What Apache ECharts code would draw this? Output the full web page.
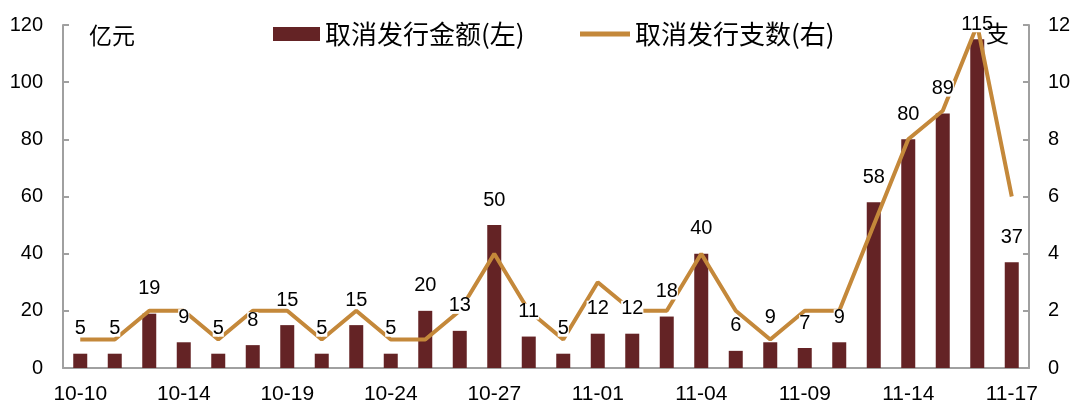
<!DOCTYPE html>
<html><head><meta charset="utf-8">
<script src="https://cdn.jsdelivr.net/npm/echarts@6/dist/echarts.min.js"></script>
<style>html,body{margin:0;padding:0;background:#fff}#c{width:1080px;height:415px}</style>
</head><body><div id="c"></div>
<script>
var categories = ['10-10','10-11','10-12','10-14','10-15','10-17','10-19','10-21','10-22','10-24','10-25','10-26','10-27','10-28','10-30','11-01','11-02','11-03','11-04','11-06','11-07','11-09','11-11','11-12','11-14','11-15','11-16','11-17'];
var amountValues = [5,5,19,9,5,8,15,5,15,5,20,13,50,11,5,12,12,18,40,6,9,7,9,58,80,89,115,37];
var countValues = [1,1,2,2,1,2,2,1,2,1,1,2,4,2,1,3,2,2,4,2,1,2,2,5,8,9,12,6];
var leftTicks = [0,20,40,60,80,100,120];
var rightTicks = [0,2,4,6,8,10,12];
var seriesNames = ['取消发行金额(左)','取消发行支数(右)'];
var unitLeft = '亿元';
var unitRight = '支';

var FONT = "'Liberation Sans','Noto Sans CJK SC',sans-serif";
var CJK = "'Noto Sans CJK SC','Liberation Sans',sans-serif";
var barColor = '#642325';
var lineColor = '#C4883A';
var axisColor = '#a0a0a0';

var maxAmount = Math.max.apply(null, amountValues);
var labelData = amountValues.map(function(v){
  var item = {value: v};
  if (v === maxAmount) item.label = {distance: 7};
  return item;
});

var chart = echarts.init(document.getElementById('c'), null, {renderer:'canvas'});
chart.setOption({
  animation: false,
  textStyle: {fontFamily: FONT},
  grid: {left: 63, right: 51, top: 25, bottom: 47, containLabel: false},
  legend: [
    {data: [{name: seriesNames[0], icon: 'rect'}],
     left: 268, top: 16, itemWidth: 47, itemHeight: 14, itemGap: 0,
     textStyle: {fontSize: 26, color: '#000', fontFamily: CJK}},
    {data: [{name: seriesNames[1], icon: 'rect', itemStyle: {color: lineColor}}],
     left: 575, top: 16, itemWidth: 50, itemHeight: 5, itemGap: 0,
     textStyle: {fontSize: 26, color: '#000', fontFamily: CJK}}
  ],
  graphic: [
    {type: 'text', left: 89, top: 24, style: {text: unitLeft, fontSize: 23, fill: '#000', fontFamily: CJK}},
    {type: 'text', left: 986, top: 22, z: 20, style: {text: unitRight, fontSize: 23, fill: '#000', fontFamily: CJK}}
  ],
  xAxis: {
    type: 'category', data: categories, boundaryGap: true,
    axisLine: {lineStyle: {color: axisColor, width: 2}},
    axisTick: {inside: true, length: 6, interval: 2, lineStyle: {color: axisColor, width: 2}},
    axisLabel: {interval: 2, fontSize: 21, color: '#000', margin: 16, fontFamily: FONT}
  },
  yAxis: [
    {type: 'value', min: leftTicks[0], max: leftTicks[leftTicks.length-1], interval: 20,
     splitLine: {show: false},
     axisLine: {show: true, lineStyle: {color: axisColor, width: 2}},
     axisTick: {show: true, inside: true, length: 6, lineStyle: {color: axisColor, width: 2}},
     axisLabel: {fontSize: 20, color: '#000', margin: 20, fontFamily: FONT}},
    {type: 'value', min: rightTicks[0], max: rightTicks[rightTicks.length-1], interval: 2,
     position: 'right',
     splitLine: {show: false},
     axisLine: {show: true, lineStyle: {color: axisColor, width: 2}},
     axisTick: {show: true, inside: true, length: 6, lineStyle: {color: axisColor, width: 2}},
     axisLabel: {fontSize: 20, color: '#000', margin: 19, fontFamily: FONT}}
  ],
  series: [
    {name: seriesNames[0], type: 'bar', yAxisIndex: 0, data: amountValues, barWidth: 14,
     itemStyle: {color: barColor}, z: 2},
    {name: seriesNames[1], type: 'line', yAxisIndex: 1, data: countValues,
     symbol: 'none', showSymbol: false,
     lineStyle: {color: lineColor, width: 4}, itemStyle: {color: lineColor}, z: 3},
    {name: 'labels', type: 'bar', yAxisIndex: 0, data: labelData, barWidth: 14, barGap: '-100%',
     itemStyle: {color: 'rgba(0,0,0,0)'}, z: 10, silent: true,
     label: {show: true, position: 'top', distance: 17, fontSize: 20, lineHeight: 16, color: '#000',
             fontFamily: FONT, backgroundColor: '#fff', padding: [0,0,0,0]}}
  ]
});
</script></body></html>
